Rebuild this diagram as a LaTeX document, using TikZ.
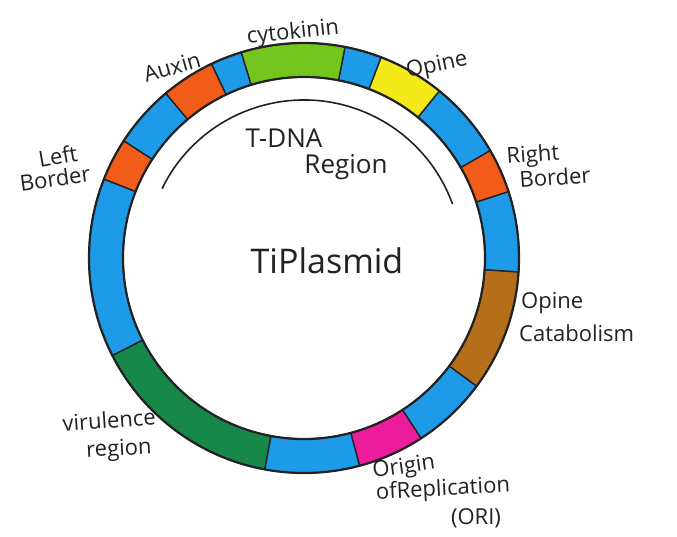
\documentclass[tikz,border=0pt]{standalone}
\usepackage{fontspec}
\setmainfont{Open Sans}
\definecolor{segblue}{HTML}{1E9BE8}
\definecolor{segorange}{HTML}{F25C19}
\definecolor{seglime}{HTML}{74C61E}
\definecolor{segyellow}{HTML}{F4EA1A}
\definecolor{segbrown}{HTML}{B56F1A}
\definecolor{segpink}{HTML}{EC1C9A}
\definecolor{segdkgreen}{HTML}{17884A}
\definecolor{inkcol}{HTML}{222222}
\begin{document}
\begin{tikzpicture}[x=1pt,y=1pt,
  seg/.style={draw=inkcol, line width=1.4pt},
  rim/.style={draw=inkcol, line width=2.2pt},
  lbl/.style={font=\fontsize{22}{24}\selectfont, text=inkcol, inner sep=0pt},
  biglbl/.style={font=\fontsize{26}{28}\selectfont, text=inkcol, inner sep=0pt},
]
\useasboundingbox (0,0) rectangle (677,536);
\fill[white] (0,0) rectangle (677,536);
\coordinate (C) at (304,278);
\def\RingOut{215pt}
\def\RingIn{181pt}
\foreach \a/\b/\c in {130/147/segblue, 147/158.5/segorange, 158.5/207/segblue,
  207/259.5/segdkgreen, 259.5/285/segblue, 285/303/segpink, 303/323.4/segblue,
  323.4/356.3/segbrown, 356.3/378/segblue, 18/30/segorange, 30/51/segblue,
  51/69/segyellow, 69/79/segblue, 79/107/seglime, 107/115.5/segblue,
  115.5/130/segorange} {
  \filldraw[seg, fill=\c] ([shift={(\a:\RingOut)}]C) arc[start angle=\a, end angle=\b, radius=\RingOut]
    -- ([shift={(\b:\RingIn)}]C) arc[start angle=\b, end angle=\a, radius=\RingIn] -- cycle;
}
\draw[rim] (C) circle[radius=\RingOut];
\draw[rim] (C) circle[radius=\RingIn];
% T-DNA arc
\draw[inkcol, line width=1.6pt] ([shift={(154:158pt)}]C) arc[start angle=154, end angle=20, radius=158pt];
% labels
\node[lbl, rotate=6] (cyto) at (293,503) {cytokinin};
\node[lbl, rotate=16] (auxin) at (172,469) {Auxin};
\node[lbl, rotate=12] (opine) at (437,470) {Opine};
\node[lbl, rotate=10] (lb1) at (58,380) {Left};
\node[lbl, rotate=8] (lb2) at (55,358) {Border};
\node[lbl, rotate=4] (rb1) at (533,380) {Right};
\node[lbl, rotate=4] (rb2) at (555,359) {Border};
\node[biglbl] (tdna) at (284,398) {T-DNA};
\node[biglbl] (treg) at (346,369) {Region};
\node[font=\fontsize{34}{36}\selectfont, text=inkcol, inner sep=0pt] (ti) at (327,275) {TiPlasmid};
\node[lbl, anchor=west] (oc1) at (521,233) {Opine};
\node[lbl, anchor=west] (oc2) at (519,203) {Catabolism};
\node[lbl, rotate=4] (vir1) at (109,116) {virulence};
\node[lbl, rotate=3] (vir2) at (119,86) {region};
\node[lbl, rotate=8] (ori1) at (404,68) {Origin};
\node[lbl, rotate=3] (ori2) at (443,46) {ofReplication};
\node[lbl] (ori3) at (476,18) {(ORI)};
\end{tikzpicture}
\end{document}
